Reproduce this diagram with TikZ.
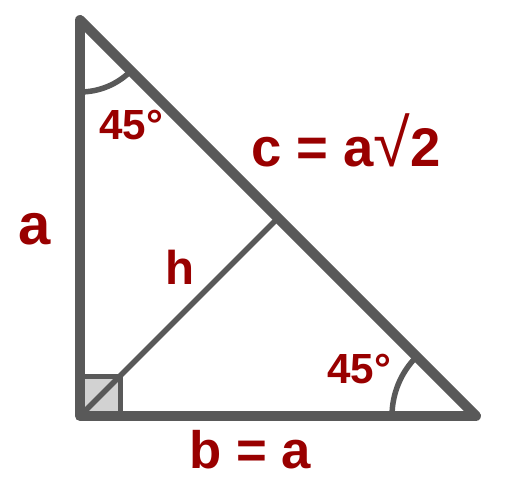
\documentclass[tikz,border=0pt]{standalone}
\usepackage{fontspec}
\setmainfont{Liberation Sans}
\usepackage{xcolor}
\usetikzlibrary{calc}
\definecolor{linegray}{HTML}{595959}
\definecolor{labelred}{HTML}{990000}
\tikzset{
  side/.style={draw=linegray, line width=0.2cm, line join=round, line cap=round},
  thinside/.style={draw=linegray, line width=0.11cm},
  lbl/.style={text=labelred, inner sep=0pt, font=\bfseries\fontsize{#1}{#1}\selectfont},
  lbl/.default=30
}

\begin{document}
\begin{tikzpicture}[x=0.02cm,y=-0.02cm]
    \useasboundingbox (0,0) rectangle (514,486);
    \coordinate (A) at (80,20);
    \coordinate (B) at (80,416);
    \coordinate (C) at (476,416);
    \coordinate (M) at ($(A)!0.5!(C)$);
    % right angle mark
    \filldraw[fill=gray!35, draw=linegray, line width=0.1cm] (B) rectangle ++(40,-40);
    \draw[thinside] (B) -- (M);
    % angle arcs
    \draw[thinside] ($(A)+(0,72)$) arc[start angle=270, end angle=315, radius=1.44cm];
    \draw[thinside] ($(C)+(-84,0)$) arc[start angle=180, end angle=135, radius=1.68cm];
    \draw[side] (A) -- (B) -- (C) -- cycle;
    % labels
    \node[lbl=24, anchor=base] (topang) at (131,140) {45°};
    \node[lbl=24, anchor=base] (botang) at (359,383) {45°};
    \node[lbl=31, anchor=base] (hyp) at (346,167) {c = a{\mdseries\fontsize{38}{38}\selectfont √}2};
    \node[lbl=27, anchor=base] (hlab) at (180,285) {h};
    \node[lbl=30, anchor=base] (bside) at (250,468) {b = a};
    \node[lbl=33, anchor=base] (aside) at (35,245) {a};
\end{tikzpicture}
\end{document}
